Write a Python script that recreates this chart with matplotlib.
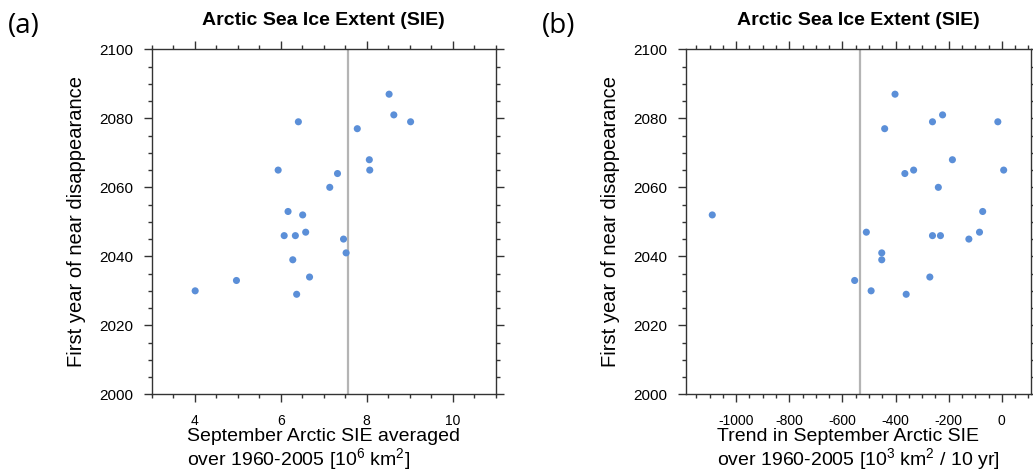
import numpy as np
import matplotlib.pyplot as plt
from matplotlib.ticker import MultipleLocator

plt.rcParams['font.family'] = ['Liberation Sans', 'DejaVu Sans']
plt.rcParams['mathtext.default'] = 'regular'
plt.rcParams['axes.unicode_minus'] = False

# (a) mean September SIE vs. first year of near disappearance
sie_mean = [8.52, 8.63, 9.02, 6.41, 7.78, 8.06, 8.07, 5.94, 7.32, 7.14, 6.17,
            6.51, 6.58, 6.08, 6.34, 7.46, 7.52, 6.28, 6.67, 4.97, 4.01, 6.37]
year_a = [2087, 2081, 2079, 2079, 2077, 2068, 2065, 2065, 2064, 2060, 2053,
          2052, 2047, 2046, 2046, 2045, 2041, 2039, 2034, 2033, 2030, 2029]
obs_mean = 7.56

# (b) September SIE trend vs. first year of near disappearance
sie_trend = [-1090, -554, -510, -492, -452, -452, -441, -402, -365, -360, -332, -271,
             -261, -261, -239, -231, -223, -186, -124, -84, -72, -15, 7]
year_b = [2052, 2033, 2047, 2030, 2041, 2039, 2077, 2087, 2064, 2029, 2065, 2034,
          2079, 2046, 2060, 2046, 2081, 2068, 2045, 2047, 2053, 2079, 2065]
obs_trend = -535

title = 'Arctic Sea Ice Extent (SIE)'
ylab = 'First year of near disappearance'
xlab_a = 'September Arctic SIE averaged\nover 1960-2005 [10$^6$ km$^2$]'
xlab_b = 'Trend in September Arctic SIE\nover 1960-2005 [10$^3$ km$^2$ / 10 yr]'

dot_color = '#5b8fd8'
axis_color = '#333333'


def setup(ax, xlim, xmaj, xmin):
    ax.set_xlim(xlim)
    ax.set_ylim(2000, 2100)
    ax.xaxis.set_major_locator(MultipleLocator(xmaj))
    ax.xaxis.set_minor_locator(MultipleLocator(xmin))
    ax.yaxis.set_major_locator(MultipleLocator(20))
    ax.yaxis.set_minor_locator(MultipleLocator(5))
    for s in ax.spines.values():
        s.set_color(axis_color)
        s.set_linewidth(1.0)
    ax.tick_params(which='both', direction='out', top=True, right=True,
                   color=axis_color, width=1.0, labelcolor='black')
    ax.tick_params(which='major', length=6)
    ax.tick_params(which='minor', length=3)
    ax.tick_params(axis='x', labelsize=10, pad=8)
    ax.tick_params(axis='y', labelsize=11, pad=7)
    ax.text(0.5, 1 + 24 / 345, title, transform=ax.transAxes, ha='center',
            va='baseline', fontsize=14, fontweight='bold')
    ax.set_ylabel(ylab, fontsize=14.5)
    ax.yaxis.set_label_coords(-0.191, 0.5)


fig = plt.figure(figsize=(10.33, 4.74), dpi=100)
ax1 = fig.add_axes([0.1469, 0.1681, 0.3330, 0.7278])
ax2 = fig.add_axes([0.6638, 0.1681, 0.3343, 0.7278])

setup(ax1, (3, 11), 2, 0.5)
ax1.axvline(obs_mean, color='#b4b4b4', lw=1.6, zorder=1)
ax1.scatter(sie_mean, year_a, s=26, color=dot_color, edgecolors='none', zorder=3)
ax1.set_xlabel(xlab_a, fontsize=14, ha='center', multialignment='left',
               linespacing=1.05)
ax1.xaxis.set_label_coords(0.5, -0.098)

setup(ax2, (-1190, 110), 200, 50)
ax2.axvline(obs_trend, color='#b4b4b4', lw=1.6, zorder=1)
ax2.scatter(sie_trend, year_b, s=26, color=dot_color, edgecolors='none', zorder=3)
ax2.set_xlabel(xlab_b, fontsize=14, ha='center', multialignment='left',
               linespacing=1.05)
ax2.xaxis.set_label_coords(0.5, -0.098)

fig.text(8 / 1033, 1 - 26 / 474, '(a)', family='Open Sans', fontsize=20,
         ha='left', va='center')
fig.text(542 / 1033, 1 - 26 / 474, '(b)', family='Open Sans', fontsize=20,
         ha='left', va='center')

fig.savefig('out.png', dpi=100)
